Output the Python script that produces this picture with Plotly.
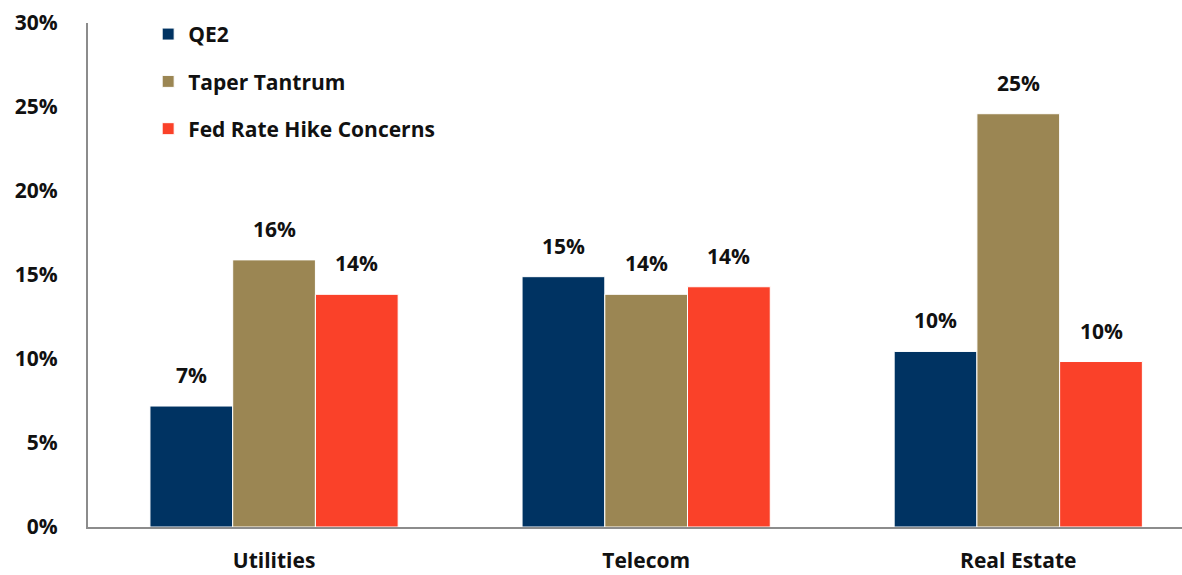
import plotly.graph_objects as go

categories = ["Utilities", "Telecom", "Real Estate"]
series_names = ["QE2", "Taper Tantrum", "Fed Rate Hike Concerns"]
qe2 = [0.072, 0.149, 0.1045]
taper = [0.159, 0.1385, 0.246]
fed_hike = [0.1385, 0.143, 0.0985]
colors = ["#003362", "#9B8653", "#FA4129"]
y_ticks = [0, 0.05, 0.10, 0.15, 0.20, 0.25, 0.30]

values = [qe2, taper, fed_hike]
font_family = "'Open Sans', Lato, sans-serif"

fig = go.Figure()
for i, (name, vals, col) in enumerate(zip(series_names, values, colors)):
    fig.add_trace(go.Bar(
        x=categories, y=vals, name=name,
        marker=dict(color=col, line=dict(color="white", width=1)),
        legendgroup=name,
    ))

# value labels above each bar
group_width = 1 - 0.333
bar_w = group_width / 3
for i, vals in enumerate(values):
    for j, v in enumerate(vals):
        fig.add_annotation(
            x=j + (i - 1) * bar_w, y=v, text=f"{round(v * 100):d}%",
            showarrow=False, yanchor="middle", yshift=31,
            font=dict(family=font_family, size=21, color="#111111", weight="bold"),
        )

fig.update_layout(
    width=1182, height=575,
    margin=dict(l=88, r=0, t=23, b=48),
    plot_bgcolor="white", paper_bgcolor="white",
    barmode="group", bargap=0.333, bargroupgap=0,
    showlegend=True,
    legend=dict(
        x=0.055, y=1.018, xanchor="left", yanchor="top",
        traceorder="grouped", tracegroupgap=17,
        font=dict(family=font_family, size=21, color="#111111", weight="bold"),
        itemwidth=30, bgcolor="rgba(0,0,0,0)",
    ),
    font=dict(family=font_family, size=21, color="#111111"),
)
fig.update_xaxes(
    type="category", range=[-0.5, 2.44],
    showline=True, linecolor="#8c8c8c", linewidth=2,
    showgrid=False, ticks="", ticklabelstandoff=14,
    tickfont=dict(family=font_family, size=21, color="#111111", weight="bold"),
)
fig.update_yaxes(
    range=[0, 0.30], tickvals=y_ticks, tickformat=".0%",
    showline=True, linecolor="#8c8c8c", linewidth=2,
    showgrid=False, zeroline=False, ticks="", ticklabelstandoff=24,
    tickfont=dict(family=font_family, size=21, color="#111111", weight="bold"),
)

fig.write_html("out.html")
